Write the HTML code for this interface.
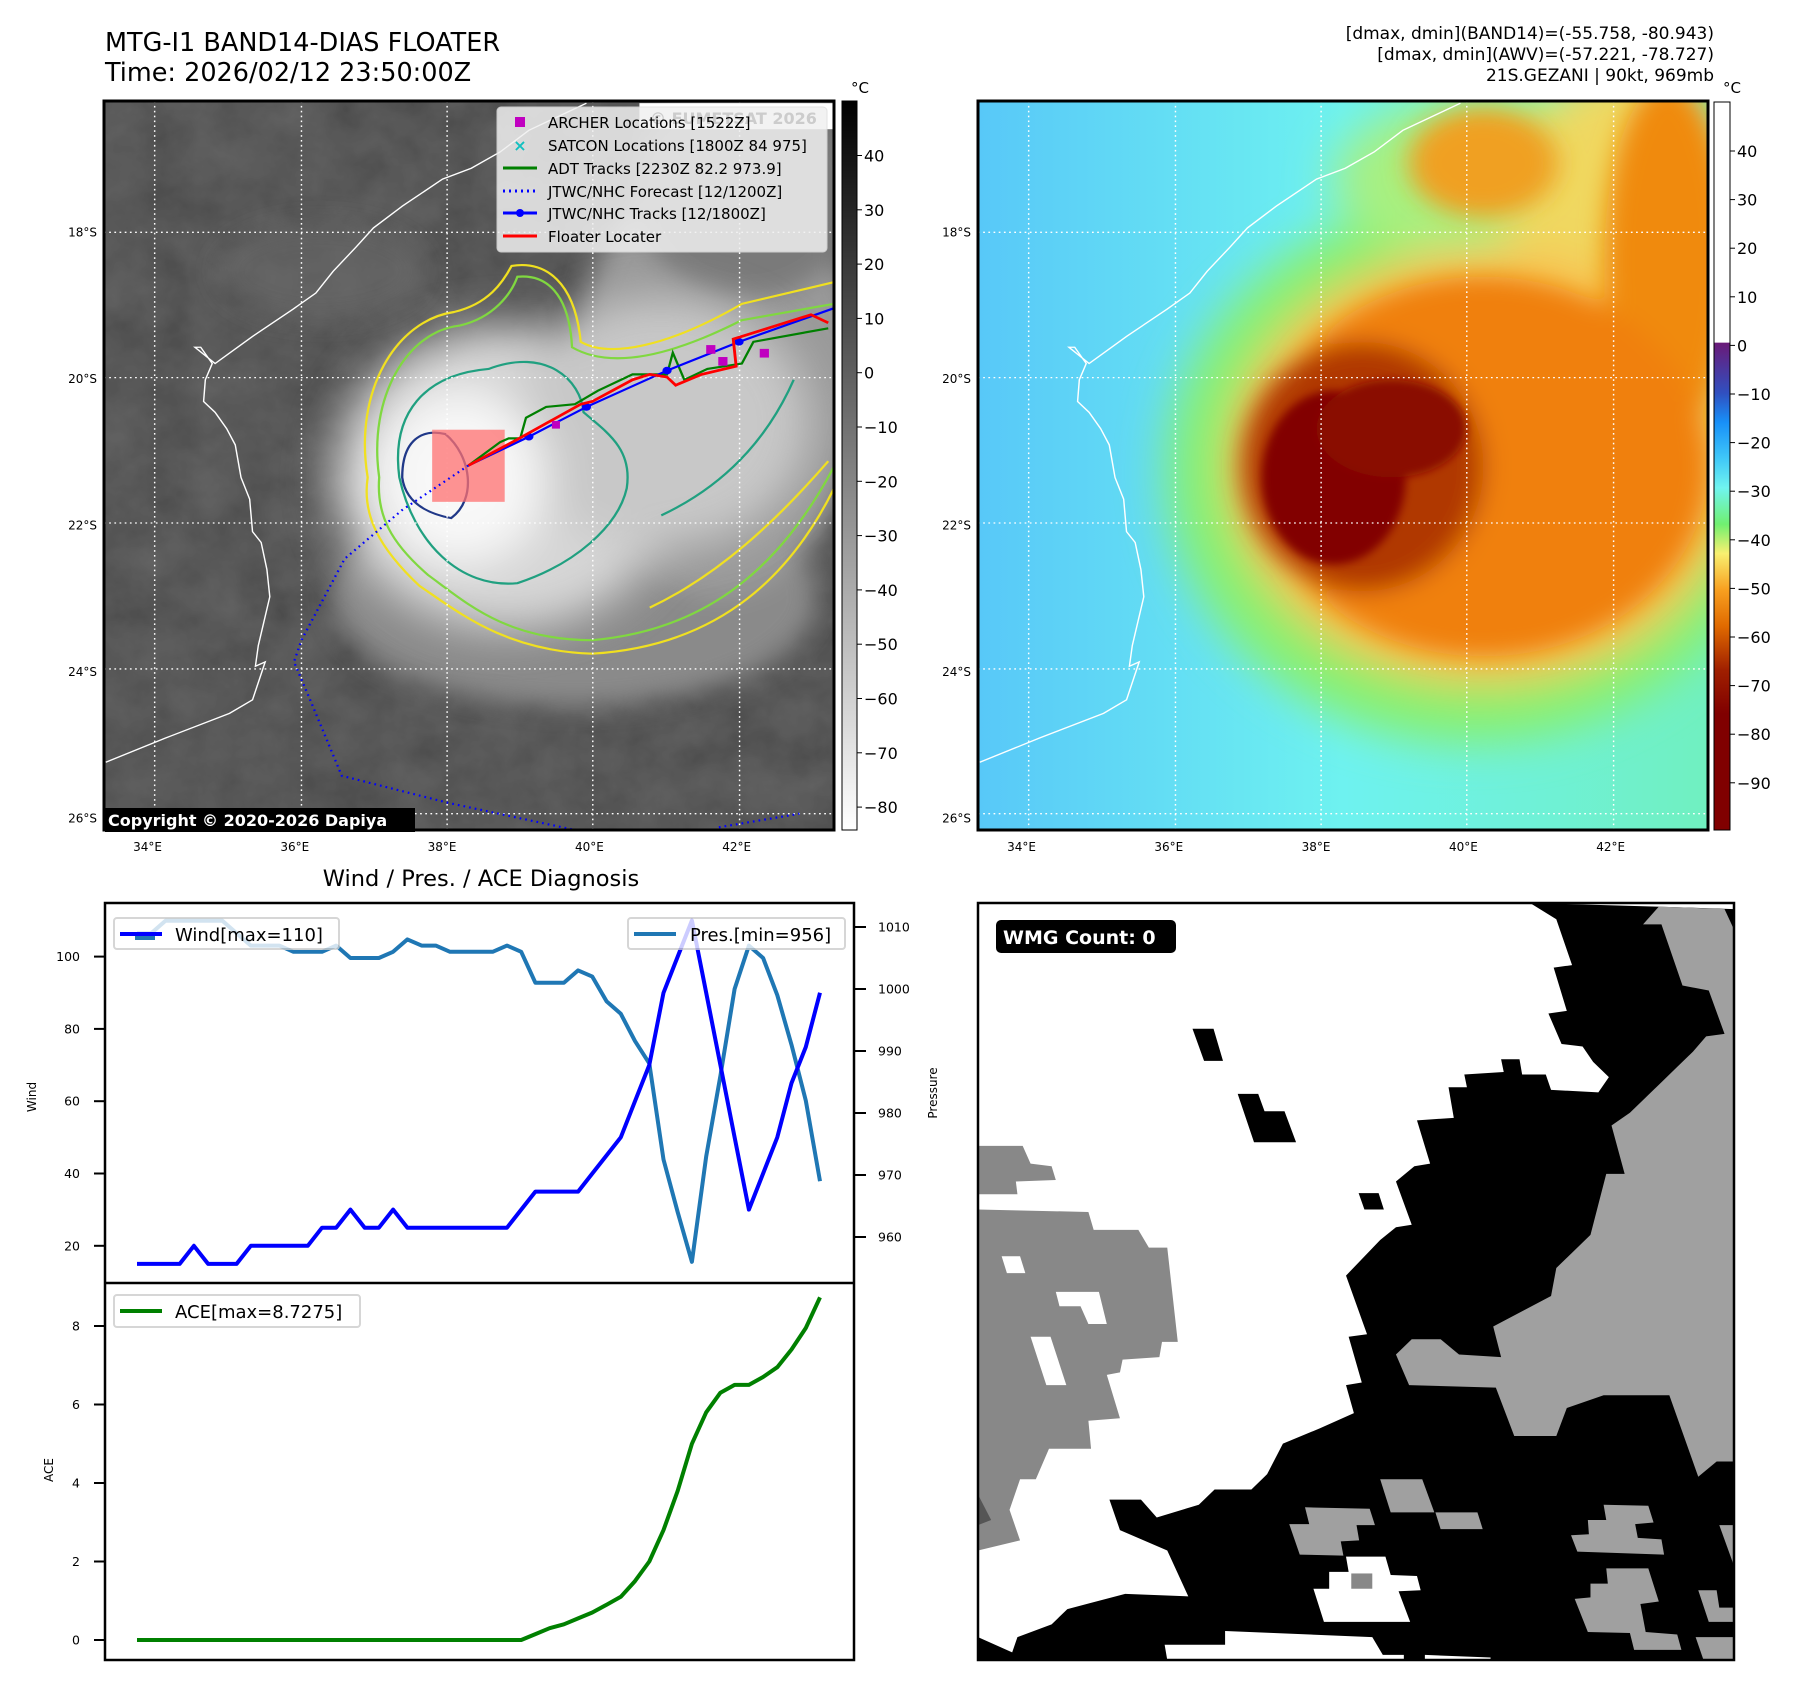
<!DOCTYPE html>
<html><head><meta charset="utf-8"><style>
html,body{margin:0;padding:0;background:#fff}
svg{display:block;font-family:"DejaVu Sans","Liberation Sans",sans-serif}
</style></head><body>
<svg id="root" width="1797" height="1690" viewBox="0 0 1797 1690">
<defs>
<filter id="b8" x="-30%" y="-30%" width="160%" height="160%"><feGaussianBlur stdDeviation="8"/></filter>
<filter id="b20" x="-30%" y="-30%" width="160%" height="160%"><feGaussianBlur stdDeviation="22"/></filter>
<filter id="b40" x="-50%" y="-50%" width="200%" height="200%"><feGaussianBlur stdDeviation="40"/></filter>
<filter id="noise"><feTurbulence type="fractalNoise" baseFrequency="0.012" numOctaves="4" seed="3"/><feColorMatrix type="saturate" values="0"/><feComponentTransfer><feFuncA type="linear" slope="0" intercept="0.35"/></feComponentTransfer></filter>
<linearGradient id="greys" x1="0" y1="0" x2="0" y2="1"><stop offset="0" stop-color="#000"/><stop offset="1" stop-color="#fff"/></linearGradient>
<linearGradient id="awv" x1="0" y1="0" x2="0" y2="1">
<stop offset="0" stop-color="#fff"/><stop offset="0.33" stop-color="#fff"/>
<stop offset="0.331" stop-color="#6a1a78"/><stop offset="0.40" stop-color="#3050c0"/><stop offset="0.44" stop-color="#1890f8"/>
<stop offset="0.49" stop-color="#40c8f8"/><stop offset="0.53" stop-color="#70f4f0"/><stop offset="0.58" stop-color="#70f070"/>
<stop offset="0.62" stop-color="#f8f070"/><stop offset="0.67" stop-color="#f8a020"/><stop offset="0.72" stop-color="#e06a00"/>
<stop offset="0.78" stop-color="#a02000"/><stop offset="0.84" stop-color="#800000"/><stop offset="1" stop-color="#800000"/></linearGradient>
<linearGradient id="seabg" x1="0" y1="0" x2="1" y2="0"><stop offset="0" stop-color="#58c8f8"/><stop offset="0.5" stop-color="#6ef2f0"/><stop offset="1" stop-color="#70f0c0"/></linearGradient>
</defs>

<!-- titles -->
<text x="105" y="51" font-size="25.5">MTG-I1 BAND14-DIAS FLOATER</text>
<text x="105" y="81" font-size="25.5">Time: 2026/02/12 23:50:00Z</text>
<g font-size="17" text-anchor="end">
<text x="1714" y="39">[dmax, dmin](BAND14)=(-55.758, -80.943)</text>
<text x="1714" y="60">[dmax, dmin](AWV)=(-57.221, -78.727)</text>
<text x="1714" y="81">21S.GEZANI | 90kt, 969mb</text>
</g>

<!-- LEFT MAP -->
<svg x="104" y="101" width="730" height="729" viewBox="182 186 1268 1344" preserveAspectRatio="none">
<rect x="182" y="186" width="1268" height="1344" fill="#3e3e3e"/>
<rect x="182" y="186" width="1268" height="1344" filter="url(#noise)" opacity="0.6"/>
<g filter="url(#b20)">
<ellipse cx="560" cy="500" rx="180" ry="90" fill="#6a6a6a" opacity="0.6"/>
<ellipse cx="1000" cy="1100" rx="420" ry="200" fill="#8a8a8a"/>
<ellipse cx="1250" cy="700" rx="250" ry="400" fill="#9a9a9a"/>
<ellipse cx="1300" cy="350" rx="200" ry="200" fill="#7a7a7a"/>
</g>
<g filter="url(#b40)">
<ellipse cx="880" cy="880" rx="300" ry="280" fill="#d6d6d6"/>
<ellipse cx="1150" cy="780" rx="260" ry="230" fill="#c8c8c8"/>
<ellipse cx="800" cy="880" rx="150" ry="160" fill="#f8f8f8"/>
</g>
<g fill="none" stroke-width="4">
<path d="M640,880 C615,720 690,590 790,575 C850,560 875,520 890,490 C950,480 1000,520 1010,630 C1060,660 1160,640 1290,560 L1450,520 L1450,900 C1380,1050 1260,1190 1030,1205 C880,1200 800,1130 730,1080 C660,1010 630,950 640,880 Z" stroke="#f0e020"/>
<path d="M660,880 C640,730 710,610 800,600 C860,585 890,540 900,510 C950,505 990,540 995,640 C1060,680 1160,660 1290,590 L1450,560 L1450,860 C1370,1020 1250,1160 1030,1180 C880,1180 810,1110 745,1060 C680,1000 655,950 660,880 Z" stroke="#80d840"/>
<path d="M695,880 C680,760 740,690 850,680 C950,640 1010,700 1015,760 C1060,800 1100,830 1090,900 C1075,970 1000,1040 900,1075 C800,1085 720,1000 695,880 Z" stroke="#20a080"/>
<path d="M700,880 C700,810 735,790 775,800 C820,840 830,920 785,955 C735,945 705,920 700,880 Z" stroke="#203888"/>
<path d="M1130,1120 C1250,1060 1350,960 1440,850" stroke="#f0e020"/>
<path d="M1150,950 C1250,900 1330,820 1380,700" stroke="#20a080"/>
</g>
<g stroke="#fff" stroke-width="2.5" stroke-dasharray="3,6">
<line x1="270" y1="186" x2="270" y2="1530"/><line x1="525" y1="186" x2="525" y2="1530"/><line x1="778" y1="186" x2="778" y2="1530"/><line x1="1031" y1="186" x2="1031" y2="1530"/><line x1="1286" y1="186" x2="1286" y2="1530"/>
<line x1="182" y1="428" x2="1450" y2="428"/><line x1="182" y1="696" x2="1450" y2="696"/><line x1="182" y1="964" x2="1450" y2="964"/><line x1="182" y1="1233" x2="1450" y2="1233"/><line x1="182" y1="1500" x2="1450" y2="1500"/>
</g>
<polyline fill="none" stroke="#fff" stroke-width="2.5" points="185,1405 290,1360 400,1315 440,1290 462,1220 445,1228 450,1190 470,1100 465,1050 455,1000 440,980 435,920 420,880 410,820 395,790 375,760 355,740 358,700 370,670 350,640 340,640 375,670 440,620 510,570 550,540 580,500 620,455 650,420 700,380 770,330 820,310 870,280 920,240 1000,200 1020,190"/>
<rect x="752" y="792" width="126" height="133" fill="#ff7070" opacity="0.75"/>
<polyline fill="none" stroke="#0000ff" stroke-width="4" stroke-dasharray="3,7" points="815,858 700,940 600,1030 525,1180 512,1220 540,1290 595,1430 780,1480 1000,1530"/>
<polyline fill="none" stroke="#0000ff" stroke-width="4" stroke-dasharray="3,7" points="1250,1525 1390,1500"/>
<polyline fill="none" stroke="#008000" stroke-width="4" points="815,858 870,815 885,808 905,808 915,770 950,750 1000,745 1040,720 1100,690 1160,690 1170,650 1190,700 1230,680 1290,670 1310,630 1440,605"/>
<polyline fill="none" stroke="#0000ff" stroke-width="4" points="815,858 920,805 1020,750 1160,683 1285,630 1450,568"/>
<g fill="#0000ff"><ellipse cx="920" cy="805" rx="8" ry="7"/><ellipse cx="1020" cy="750" rx="8" ry="7"/><ellipse cx="1160" cy="683" rx="8" ry="7"/><ellipse cx="1285" cy="630" rx="8" ry="7"/></g>
<polyline fill="none" stroke="#ff0000" stroke-width="5" points="815,858 900,810 1010,745 1030,740 1100,700 1130,690 1160,695 1175,710 1220,690 1280,675 1275,625 1410,580 1440,595"/>
<g fill="#c000c0"><rect x="1228" y="636" width="16" height="16"/><rect x="1249" y="658" width="16" height="16"/><rect x="1321" y="643" width="16" height="16"/><rect x="960" y="776" width="14" height="14"/></g>
<rect x="1112" y="190" width="338" height="48" fill="#fff"/>
</svg>
<rect x="104" y="101" width="730" height="729" fill="none" stroke="#000" stroke-width="3"/>

<!-- legend -->
<g>
<rect x="497" y="107" width="330" height="145" rx="4" fill="#f0f0f0" opacity="0.85" stroke="#ddd"/>
<text x="650" y="124" font-size="16" font-weight="bold" fill="#ccc">© EUMETSAT 2026</text>
<g font-size="15">
<rect x="515" y="117" width="10" height="10" fill="#c000c0"/><text x="548" y="128">ARCHER Locations [1522Z]</text>
<text x="520" y="151" font-size="16" font-weight="bold" fill="#10c0c0" text-anchor="middle">×</text><text x="548" y="151">SATCON Locations [1800Z 84 975]</text>
<line x1="503" y1="168" x2="537" y2="168" stroke="#008000" stroke-width="3"/><text x="548" y="174">ADT Tracks [2230Z 82.2 973.9]</text>
<line x1="503" y1="191" x2="537" y2="191" stroke="#0000ff" stroke-width="3" stroke-dasharray="2,4"/><text x="548" y="197">JTWC/NHC Forecast [12/1200Z]</text>
<line x1="503" y1="213" x2="537" y2="213" stroke="#0000ff" stroke-width="3"/><circle cx="520" cy="213" r="4" fill="#0000ff"/><text x="548" y="219">JTWC/NHC Tracks [12/1800Z]</text>
<line x1="503" y1="236" x2="537" y2="236" stroke="#ff0000" stroke-width="3"/><text x="548" y="242">Floater Locater</text>
</g></g>
<rect x="105" y="808" width="310" height="24" fill="#000"/>
<text x="108" y="826" font-size="16" font-weight="bold" fill="#fff">Copyright © 2020-2026 Dapiya</text>

<!-- left colorbar -->
<rect x="842" y="101" width="15" height="729" fill="url(#greys)" stroke="#000" stroke-width="1"/>
<text x="851" y="93" font-size="15">°C</text>
<g id="cbL" font-size="16"></g>

<!-- RIGHT MAP -->
<svg x="978" y="101" width="730" height="729" viewBox="182 186 1268 1344" preserveAspectRatio="none">
<rect x="182" y="186" width="1268" height="1344" fill="url(#seabg)"/>
<g filter="url(#b40)">
<ellipse cx="1040" cy="870" rx="530" ry="500" fill="#88f070"/>
<ellipse cx="1100" cy="330" rx="300" ry="160" fill="#a8f080"/>
<ellipse cx="1300" cy="450" rx="200" ry="330" fill="#f0d860"/>
<ellipse cx="1060" cy="860" rx="440" ry="400" fill="#f8c050"/>
</g>
<g filter="url(#b20)">
<ellipse cx="1380" cy="480" rx="110" ry="330" fill="#f08a10"/>
<ellipse cx="1060" cy="300" rx="130" ry="100" fill="#f0a020"/>
<ellipse cx="1060" cy="860" rx="390" ry="350" fill="#f08010"/>
<ellipse cx="850" cy="860" rx="210" ry="230" fill="#b03800"/>
</g>
<g filter="url(#b8)">
<ellipse cx="800" cy="880" rx="125" ry="160" fill="#820000"/>
<ellipse cx="900" cy="790" rx="130" ry="90" fill="#8a0800"/>
</g>
<g stroke="#fff" stroke-width="2.5" stroke-dasharray="3,6">
<line x1="270" y1="186" x2="270" y2="1530"/><line x1="525" y1="186" x2="525" y2="1530"/><line x1="778" y1="186" x2="778" y2="1530"/><line x1="1031" y1="186" x2="1031" y2="1530"/><line x1="1286" y1="186" x2="1286" y2="1530"/>
<line x1="182" y1="428" x2="1450" y2="428"/><line x1="182" y1="696" x2="1450" y2="696"/><line x1="182" y1="964" x2="1450" y2="964"/><line x1="182" y1="1233" x2="1450" y2="1233"/><line x1="182" y1="1500" x2="1450" y2="1500"/>
</g>
<polyline fill="none" stroke="#fff" stroke-width="2.5" points="185,1405 290,1360 400,1315 440,1290 462,1220 445,1228 450,1190 470,1100 465,1050 455,1000 440,980 435,920 420,880 410,820 395,790 375,760 355,740 358,700 370,670 350,640 340,640 375,670 440,620 510,570 550,540 580,500 620,455 650,420 700,380 770,330 820,310 870,280 920,240 1000,200 1020,190"/>
</svg>
<rect x="978" y="101" width="730" height="729" fill="none" stroke="#000" stroke-width="3"/>
<rect x="1714" y="102" width="16" height="728" fill="url(#awv)" stroke="#000" stroke-width="1"/>
<text x="1723" y="93" font-size="15">°C</text>
<g id="cbR" font-size="16"></g>

<g id="mapTicks" font-size="12"></g>

<!-- bottom-left chart -->
<text x="481" y="886" font-size="22.5" text-anchor="middle">Wind / Pres. / ACE Diagnosis</text>
<g id="chart"></g>
<rect x="105" y="903" width="749" height="757" fill="none" stroke="#000" stroke-width="2.5"/>
<line x1="105" y1="1283" x2="854" y2="1283" stroke="#000" stroke-width="2.5"/>
<text transform="translate(36,1097) rotate(-90)" font-size="12" text-anchor="middle">Wind</text>
<text transform="translate(937,1093) rotate(-90)" font-size="12" text-anchor="middle">Pressure</text>
<text transform="translate(53,1470) rotate(-90)" font-size="12" text-anchor="middle">ACE</text>
<g><rect x="114" y="918" width="225" height="31" rx="3" fill="#fff" opacity="0.8" stroke="#ccc" stroke-width="2"/>
<line x1="120" y1="934" x2="162" y2="934" stroke="#0000ff" stroke-width="4"/><line x1="135" y1="938" x2="155" y2="938" stroke="#1f77b4" stroke-width="4"/><text x="175" y="941" font-size="18">Wind[max=110]</text></g>
<g><rect x="628" y="918" width="217" height="31" rx="3" fill="#fff" opacity="0.8" stroke="#ccc" stroke-width="2"/>
<line x1="634" y1="934" x2="676" y2="934" stroke="#1f77b4" stroke-width="4"/><text x="690" y="941" font-size="18">Pres.[min=956]</text></g>
<g><rect x="114" y="1295" width="246" height="32" rx="3" fill="#fff" opacity="0.8" stroke="#ccc" stroke-width="2"/>
<line x1="120" y1="1311" x2="162" y2="1311" stroke="#008000" stroke-width="4"/><text x="175" y="1318" font-size="18">ACE[max=8.7275]</text></g>

<!-- bottom-right WMG -->
<svg x="978" y="903" width="756" height="757" viewBox="0 28 1438 1487" preserveAspectRatio="none">
<rect x="0" y="28" width="1438" height="1487" fill="#fff"/>
<polygon fill="#000" points="1050,28 1290,35 1438,40 1438,1515 0,1515 0,1470 65,1500 75,1470 140,1445 170,1415 280,1385 400,1390 360,1300 270,1260 250,1200 310,1200 340,1235 420,1210 450,1180 520,1180 550,1150 580,1090 650,1060 715,1030 700,975 730,970 705,880 740,875 700,760 765,690 795,665 825,660 795,575 830,545 860,540 835,455 905,450 895,390 930,390 925,365 1000,360 995,335 1030,335 1035,365 1080,365 1090,395 1180,400 1200,370 1170,340 1150,310 1110,305 1085,245 1120,240 1095,155 1130,150 1100,60"/>
<polygon fill="#a0a0a0" points="1295,35 1420,40 1438,80 1438,1125 1405,1125 1370,1155 1315,995 1190,995 1120,1020 1100,1075 1020,1075 985,980 820,975 795,915 825,885 880,885 915,915 995,920 980,860 1090,800 1100,745 1130,715 1165,680 1180,620 1195,560 1230,560 1205,465 1240,440 1270,410 1300,380 1330,350 1360,320 1385,290 1420,285 1390,200 1340,190 1300,70 1265,70"/>
<g fill="#000"><polygon points="408,275 448,275 466,338 430,338"/><polygon points="494,403 533,403 545,437 583,437 605,498 525,498"/><polygon points="724,598 762,598 772,630 735,630"/></g>
<g fill="#888">
<polygon points="0,505 85,505 100,540 140,545 148,572 72,575 75,600 0,600"/>
<polygon points="0,630 210,635 220,670 305,670 325,705 360,705 380,890 350,890 345,920 275,925 270,950 245,955 270,1040 210,1045 215,1100 135,1100 110,1160 80,1160 60,1220 80,1280 0,1300 0,1150 0,660"/>
</g>
<g fill="#fff"><polygon points="45,722 80,722 90,755 55,755"/><polygon points="148,792 230,792 245,855 210,855 195,820 155,820"/><polygon points="100,880 138,880 168,975 130,975"/></g>
<g fill="#a0a0a0">
<polygon points="765,1160 845,1160 868,1225 785,1225"/><polygon points="870,1225 950,1225 960,1258 880,1258"/>
<polygon points="622,1215 745,1218 755,1250 720,1250 725,1280 690,1282 695,1310 612,1308 592,1248 630,1248"/>
<polygon points="1190,1210 1275,1212 1285,1245 1250,1248 1255,1275 1300,1278 1305,1308 1140,1302 1128,1270 1162,1268 1160,1240 1195,1240"/>
<polygon points="1195,1335 1275,1335 1295,1400 1260,1405 1270,1460 1330,1465 1338,1495 1248,1495 1240,1462 1160,1460 1135,1395 1165,1392 1165,1365 1198,1365"/>
<polygon points="1370,1378 1405,1378 1410,1412 1438,1412 1438,1440 1390,1440"/>
<polygon points="1365,1470 1438,1470 1438,1515 1380,1515"/>
<polygon points="1410,1250 1438,1250 1438,1330"/>
</g>
<g fill="#fff">
<polygon points="700,1312 775,1312 785,1348 835,1350 842,1378 800,1380 822,1440 658,1440 638,1375 668,1375 668,1342 705,1342"/>
<polygon points="470,1458 750,1470 770,1505 810,1505 810,1515 360,1515 355,1485 470,1485"/>
<polygon points="850,1505 975,1510 975,1515 850,1515"/>
</g>
<rect x="710" y="1345" width="40" height="30" fill="#888"/>
<polygon points="0,1190 25,1240 0,1250" fill="#555"/>
</svg>
<rect x="978" y="903" width="756" height="757" fill="none" stroke="#000" stroke-width="2.5"/>
<rect x="996" y="920" width="180" height="33" rx="5" fill="#000"/>
<text x="1003" y="944" font-size="19" font-weight="bold" fill="#fff">WMG Count: 0</text>
</svg>

<script>
// ---- data ----
const windValues = [15,15,15,15,20,15,15,15,20,20,20,20,20,25,25,30,25,25,30,25,25,25,25,25,25,25,25,30,35,35,35,35,40,45,50,60,70,90,100,110,90,70,50,30,40,50,65,75,90];
const presValues = [1009,1009,1011,1011,1011,1011,1011,1009,1007,1007,1007,1006,1006,1006,1007,1005,1005,1005,1006,1008,1007,1007,1006,1006,1006,1006,1007,1006,1001,1001,1001,1003,1002,998,996,991.6,988,972.5,964,956,973,986,1000,1007,1005,999,991,982,969];
const aceValues = [0,0,0,0,0,0,0,0,0,0,0,0,0,0,0,0,0,0,0,0,0,0,0,0,0,0,0,0,0.15,0.3,0.4,0.55,0.7,0.9,1.1,1.5,2.0,2.8,3.8,5.0,5.8,6.3,6.5,6.5,6.7,6.95,7.4,7.95,8.7275];
const windTicks = [20,40,60,80,100];
const presTicks = [960,970,980,990,1000,1010];
const aceTicks = [0,2,4,6,8];
const irCbTicks = [40,30,20,10,0,-10,-20,-30,-40,-50,-60,-70,-80];
const awvCbTicks = [40,30,20,10,0,-10,-20,-30,-40,-50,-60,-70,-80,-90];
const lonTicks = ["34°E","36°E","38°E","40°E","42°E"];
const latTicks = ["18°S","20°S","22°S","24°S","26°S"];

const NS = "http://www.w3.org/2000/svg";
function mk(tag, attrs, parent){const e=document.createElementNS(NS,tag);for(const k in attrs)e.setAttribute(k,attrs[k]);parent.appendChild(e);return e;}
const fmt = v => (v<0?"\u2212"+(-v):""+v);

// axis functions
const n = windValues.length;
const xS = i => 137 + i*(820-137)/(n-1);
const yWind = v => 1245.8 - (v-20)*(1245.8-956.6)/80;
const yPres = v => 1175 - (v-970)*(1175-927)/40;
const yAce = v => 1640 - v*(1640-1326)/8;
const yIrCb = v => 155.5 - (v-40)*5.43;
const yAwvCb = v => 151 - (v-40)*4.86;
const xLon = i => 147.5 + i*147.3;
const yLat = i => 232.7 + i*146.4;

const chart = document.getElementById('chart');
function series(vals, yf, color, name){
  const pts = vals.map((v,i)=>xS(i).toFixed(1)+","+yf(v).toFixed(1)).join(" ");
  const p = mk('polyline',{points:pts,fill:'none',stroke:color,'stroke-width':4,'stroke-linejoin':'round'},chart);
  
  
}
series(presValues, yPres, '#1f77b4', 'pressure-line');
series(windValues, yWind, '#0000ff', 'wind-line');
series(aceValues, yAce, '#008000', 'ace-line');

windTicks.forEach(v=>{const y=yWind(v);
  mk('line',{x1:94,y1:y,x2:105,y2:y,stroke:'#000','stroke-width':2},chart);
  const t=mk('text',{x:80,y:y+4.5,'font-size':12.5,'text-anchor':'end'},chart);t.textContent=v;
  
  });
presTicks.forEach(v=>{const y=yPres(v);
  mk('line',{x1:854,y1:y,x2:866,y2:y,stroke:'#000','stroke-width':2},chart);
  const t=mk('text',{x:878,y:y+4.5,'font-size':12.5},chart);t.textContent=v;
  
  });
aceTicks.forEach(v=>{const y=yAce(v);
  mk('line',{x1:94,y1:y,x2:105,y2:y,stroke:'#000','stroke-width':2},chart);
  const t=mk('text',{x:80,y:y+4.5,'font-size':12.5,'text-anchor':'end'},chart);t.textContent=v;
  
  });

const cbL=document.getElementById('cbL');
irCbTicks.forEach(v=>{const y=yIrCb(v);
  mk('line',{x1:857,y1:y,x2:862,y2:y,stroke:'#000'},cbL);
  const t=mk('text',{x:864,y:y+6},cbL);t.textContent=fmt(v);
  
  });
const cbR=document.getElementById('cbR');
awvCbTicks.forEach(v=>{const y=yAwvCb(v);
  mk('line',{x1:1730,y1:y,x2:1735,y2:y,stroke:'#000'},cbR);
  const t=mk('text',{x:1737,y:y+6},cbR);t.textContent=fmt(v);
  
  });

const mt=document.getElementById('mapTicks');
[0,874].forEach(off=>{
  lonTicks.forEach((s,i)=>{const t=mk('text',{x:xLon(i)+off,y:851,'text-anchor':'middle'},mt);t.textContent=s;
    
    });
  latTicks.forEach((s,i)=>{const t=mk('text',{x:97+off,y:yLat(i)+4,'text-anchor':'end'},mt);t.textContent=s;
    
    });
});
</script>
</body></html>
